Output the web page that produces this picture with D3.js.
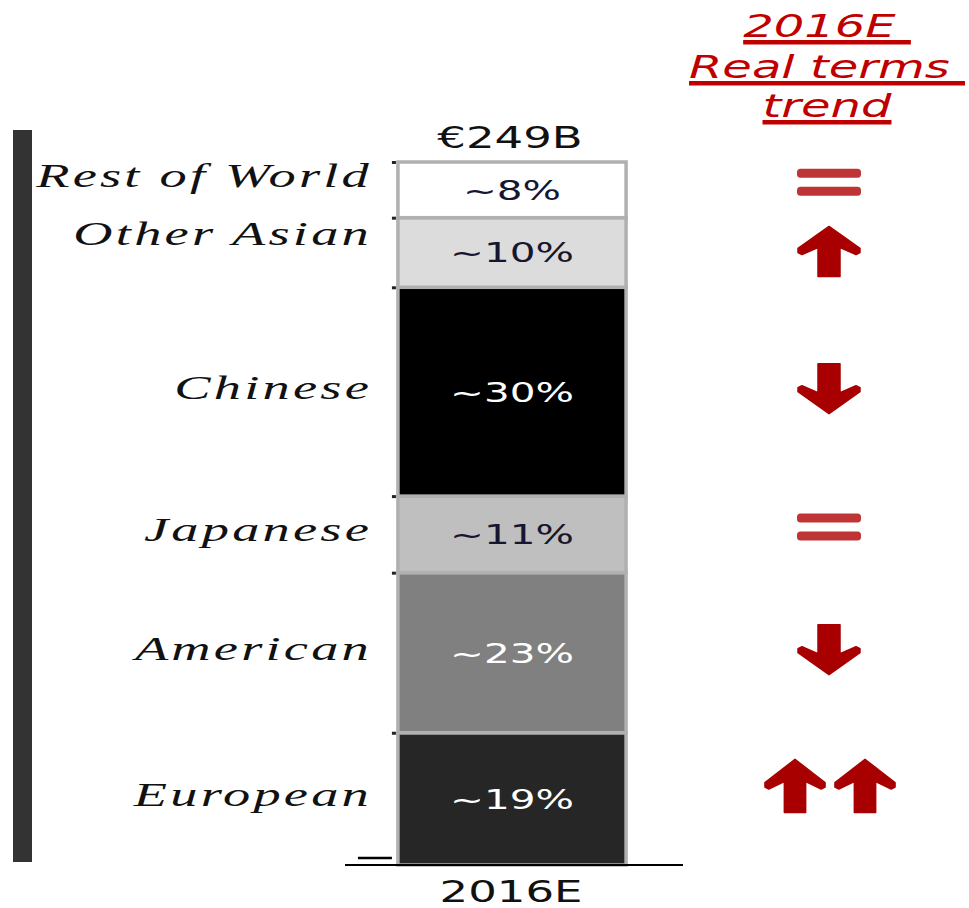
<!DOCTYPE html>
<html>
<head>
<meta charset="utf-8">
<script src="https://cdn.jsdelivr.net/npm/d3@7"></script>
<style>
  html, body { margin: 0; padding: 0; background: #fff; }
  svg { display: block; }
</style>
</head>
<body>
<svg id="chart" width="969" height="908"></svg>
<script>
// Market split by brand origin, bottom segment first
const categories = ["European", "American", "Japanese", "Chinese", "Other Asian", "Rest of World"];
const shares = [19, 23, 11, 30, 10, 8];
const trends = ["upup", "down", "flat", "down", "up", "flat"];
const barCategory = ["2016E"];
const totalLabel = "€249B";
const headerLines = ["2016E ", "Real terms ", "trend"];

// Segment fills, same order as categories
const fills = ["#262626", "#808080", "#bfbfbf", "#000000", "#dcdcdc", "#ffffff"];
const darkFills = new Set(["#262626", "#808080", "#000000"]);

const SX = 1.5; // horizontal stretch applied to the lettering
const svg = d3.select("#chart");

const total = d3.sum(shares);
const y = d3.scaleLinear().domain([0, total]).range([865, 162]);
const x = d3.scaleBand().domain(barCategory).range([343, 681]).paddingOuter(0.228).paddingInner(0);

// stacked layout
let acc = 0;
const segs = categories.map((c, i) => {
  const s = { cat: c, v: shares[i], y0: acc, y1: acc + shares[i], fill: fills[i], trend: trends[i] };
  acc += shares[i];
  return s;
});

// dark bracket on the far left
svg.append("rect").attr("x", 13).attr("y", 130).attr("width", 19).attr("height", 732).attr("fill", "#333333");

// segments
const bx = x("2016E"), bw = x.bandwidth();
svg.append("g").selectAll("rect").data(segs).join("rect")
  .attr("x", bx + 2)
  .attr("width", bw - 4)
  .attr("y", d => y(d.y1))
  .attr("height", d => y(d.y0) - y(d.y1))
  .attr("fill", d => d.fill)
  .attr("stroke", "#b0b0b0")
  .attr("stroke-width", 3.5);

// left axis ticks at segment boundaries
const bounds = segs.map(d => d.y1);
const axis = d3.axisLeft(y).tickValues(bounds).tickSize(4).tickFormat("");
const ag = svg.append("g").attr("transform", `translate(${bx},0)`).call(axis);
ag.select(".domain").remove();
ag.selectAll(".tick line").attr("stroke", "#222").attr("stroke-width", 3);

// short mark at the foot of the axis
svg.append("line").attr("x1", bx - 38).attr("x2", bx - 4)
  .attr("y1", y(0) - 7).attr("y2", y(0) - 7).attr("stroke", "#000").attr("stroke-width", 2.5);

// baseline
svg.append("line").attr("x1", 345).attr("x2", 683).attr("y1", y(0)).attr("y2", y(0))
  .attr("stroke", "#000").attr("stroke-width", 2);

function stretchedText(g, tx, ty, str, anchor, sx) {
  return g.append("text")
    .attr("transform", `translate(${tx},${ty}) scale(${sx || SX},1)`)
    .attr("text-anchor", anchor || "middle")
    .text(str);
}

const cx = bx + bw / 2;

// percent labels inside segments
const pg = svg.append("g").attr("font-family", "'DejaVu Sans', Verdana, sans-serif").attr("font-size", 27);
segs.forEach(d => {
  const mid = (y(d.y0) + y(d.y1)) / 2;
  stretchedText(pg, cx, mid + 10, "~" + d.v + "%")
    .attr("fill", darkFills.has(d.fill) ? "#ffffff" : "#161630");
});

// total above bar, category below
const tg = svg.append("g").attr("font-family", "'DejaVu Sans', Verdana, sans-serif").attr("font-size", 30).attr("fill", "#111");
stretchedText(tg, cx - 2, 148, totalLabel);
stretchedText(tg, cx - 1, 902, barCategory[0]);

// handwritten-style category names
const nudge = { "Rest of World": -10, "Other Asian": -14 };
const lg = svg.append("g").attr("font-family", "'Liberation Serif', serif").attr("font-style", "italic")
  .attr("font-size", 34).attr("fill", "#111").attr("letter-spacing", 2);
segs.forEach(d => {
  const mid = (y(d.y0) + y(d.y1)) / 2;
  stretchedText(lg, 372, mid + 7 + (nudge[d.cat] || 0), d.cat, "end", 1.6);
});

// header, underlined
const hg = svg.append("g").attr("font-family", "'DejaVu Sans', Verdana, sans-serif").attr("font-style", "italic")
  .attr("font-size", 32).attr("fill", "#c00000");
const hx = 827, hBase = [37, 78, 117];
headerLines.forEach((line, i) => {
  const t = stretchedText(hg, hx, hBase[i], line).style("white-space", "pre");
  const w = t.node().getComputedTextLength() * SX;
  hg.append("rect").attr("x", hx - w / 2).attr("y", hBase[i] + 3).attr("width", w).attr("height", 4.5)
    .attr("fill", "#c00000");
});

// trend markers
const up = "M0,-25 L31,-3 L31,1 L27,3 L11,-4 L11,25 L-11,25 L-11,-4 L-27,3 L-31,1 L-31,-3 Z";
const tgm = svg.append("g");
const trendX = 829;
segs.forEach(d => {
  const mid = (y(d.y0) + y(d.y1)) / 2 - 3;
  const g = tgm.append("g").attr("transform", `translate(${trendX},${mid})`);
  if (d.trend === "flat") {
    [-18, 0].forEach(o => g.append("rect").attr("x", -32).attr("y", o).attr("width", 64).attr("height", 9)
      .attr("rx", 3.5).attr("fill", "#bf3535"));
  } else if (d.trend === "up") {
    g.append("path").attr("d", up).attr("transform", "translate(0,2)").attr("fill", "#a80000").attr("stroke", "#a80000").attr("stroke-linejoin", "round").attr("stroke-width", 1.5);
  } else if (d.trend === "down") {
    g.append("path").attr("d", up).attr("transform", "scale(1,-1)").attr("fill", "#a80000").attr("stroke", "#a80000").attr("stroke-linejoin", "round").attr("stroke-width", 1.5);
  } else if (d.trend === "upup") {
    [-34, 36].forEach(o => g.append("path").attr("d", up).attr("transform", `translate(${o},-10) scale(0.97,1.06)`)
      .attr("fill", "#a80000").attr("stroke", "#a80000").attr("stroke-linejoin", "round").attr("stroke-width", 1.5));
  }
});
</script>
</body>
</html>
